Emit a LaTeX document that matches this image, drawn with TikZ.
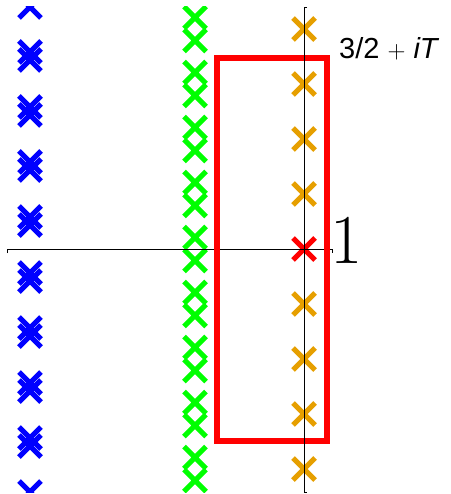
\documentclass[tikz,border=0pt]{standalone}
\usepackage{fontspec}
\newfontfamily\labelsans{Liberation Sans}
\definecolor{zeroorange}{RGB}{230,159,0}
\definecolor{zerogreen}{RGB}{0,255,0}
\begin{document}
\begin{tikzpicture}[x=1pt,y=-1pt,
  xmark/.pic={\draw (-11,-11) -- (11,11) (-11,11) -- (11,-11);},
  marker/.style={line width=5.2pt},
  axisline/.style={line width=0.9pt, black},
  contour/.style={line width=5.6pt, red}]
\useasboundingbox (0,0) rectangle (450,494);

% zeros and pole, clipped to the plot range
\begin{scope}
  \clip (0,7) rectangle (450,492);
  % double zeros on the far left
  \foreach \k in {0,...,3}{
    \pgfmathsetmacro\d{28+55*\k}
    \pic[blue, marker] at (30,249-\d-4) {xmark};
    \pic[blue, marker] at (30,249-\d+4) {xmark};
    \pic[blue, marker] at (30,249+\d-4) {xmark};
    \pic[blue, marker] at (30,249+\d+4) {xmark};
  }
  % the ones cut by the plot range
  \pic[blue, marker] at (30,7) {xmark};
  \pic[blue, marker] at (30,492) {xmark};
  % pairs of zeros in the middle column
  \foreach \k in {-4,...,4}{
    \pic[zerogreen, marker] at (195,249+55*\k-11.5) {xmark};
    \pic[zerogreen, marker] at (195,249+55*\k+11.5) {xmark};
  }
  % zeros on the line through the pole
  \foreach \k in {-4,-3,-2,-1,1,2,3,4}{
    \pic[zeroorange, marker] at (304,249+55*\k) {xmark};
  }
  % the pole
  \pic[red, marker] at (304,249) {xmark};
\end{scope}

% horizontal axis
\coordinate (hl) at (7,249.5);
\coordinate (hr) at (332,249.5);
\draw[axisline] ([yshift=-3.5pt]hl) -- (hl) -- (hr) -- ([yshift=-3.5pt]hr);

% integration contour
\draw[contour] (217,58) rectangle (327,441);

% vertical axis
\coordinate (vt) at (304,7);
\coordinate (vb) at (304,492);
\draw[axisline] ([xshift=3pt]vt) -- (vt) -- (vb) -- ([xshift=3pt]vb);

% labels
\node[anchor=base west, inner sep=0pt, font=\fontsize{70}{70}\selectfont] (one) at (330,263) {1};
\node[anchor=base west, inner sep=0pt, font=\labelsans\fontsize{29}{29}\selectfont] (corner) at (339,59) {3/2 $+$ \textit{iT}};
\end{tikzpicture}
\end{document}
